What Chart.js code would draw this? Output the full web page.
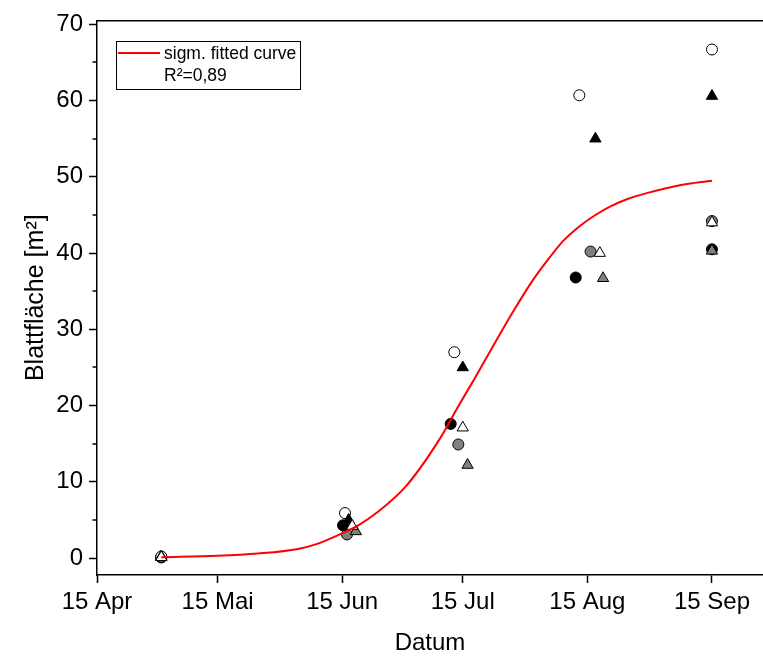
<!DOCTYPE html>
<html><head><meta charset="utf-8">
<script src="https://cdn.jsdelivr.net/npm/chart.js@4.4.0/dist/chart.umd.min.js"></script>
<style>html,body{margin:0;padding:0;background:#fff;overflow:hidden}#wrap{width:763px;height:664px;position:relative}</style>
</head><body><div id="wrap"><canvas id="c" width="763" height="664"></canvas></div>
<script>
// Days after 15 April
const tickDays = [0, 30, 61, 91, 122, 153];
const tickLabels = ['15 Apr', '15 Mai', '15 Jun', '15 Jul', '15 Aug', '15 Sep'];
const yTickValues = [0, 5, 10, 15, 20, 25, 30, 35, 40, 45, 50, 55, 60, 65, 70];

const openCircleDays = [16, 61.7, 88.9, 120.0, 153];
const openCircleValues = [0.2, 5.9, 27.0, 60.7, 66.7];
const blackCircleDays = [16, 61.2, 88.0, 119.1, 153];
const blackCircleValues = [0.1, 4.3, 17.6, 36.8, 40.5];
const grayCircleDays = [16, 62.2, 89.9, 122.8, 153];
const grayCircleValues = [0.1, 3.1, 14.9, 40.2, 44.2];
const openTriangleDays = [16, 63.5, 91.0, 125.1, 153];
const openTriangleValues = [0.1, 4.2, 17.1, 40.0, 44.0];
const blackTriangleDays = [16, 62.6, 91.0, 124.0, 153];
const blackTriangleValues = [0.2, 5.0, 25.0, 55.0, 60.6];
const grayTriangleDays = [16, 64.4, 92.2, 125.9, 153];
const grayTriangleValues = [0.1, 3.5, 12.2, 36.7, 40.3];

const curveDays = [16, 30, 40, 50, 55, 60, 65, 70, 77, 85, 90, 94, 98, 103.5, 108, 112, 116, 120, 124, 128, 132, 137, 145, 153];
const curveValues = [0.1, 0.3, 0.6, 1.2, 1.9, 3.0, 4.3, 6.1, 9.5, 15.4, 20.0, 23.6, 27.3, 32.3, 36.1, 39.0, 41.6, 43.5, 45.0, 46.2, 47.1, 47.9, 48.9, 49.5];

const legendLine1 = 'sigm. fitted curve';
const legendLine2 = 'R\u00b2=0,89';

const FONT = '"Liberation Sans", Arial, sans-serif';
const toXY = (xs, ys) => xs.map((x, i) => ({x: x, y: ys[i]}));

function pts(label, xs, ys, style, fill, order) {
  return {
    type: 'scatter', label: label, data: toXY(xs, ys), pointStyle: style,
    pointRadius: style === 'triangle' ? 6.5 : 5.5, pointHoverRadius: style === 'triangle' ? 6.5 : 5.5,
    pointBackgroundColor: fill, pointBorderColor: '#000', pointBorderWidth: 1, order: order
  };
}

const minorTicks = {
  id: 'minorTicks',
  afterDraw(chart) {
    const ctx = chart.ctx, y = chart.scales.y;
    ctx.save();
    ctx.strokeStyle = '#000'; ctx.lineWidth = 1.5;
    y.ticks.forEach(t => {
      if (t.value % 10 !== 0) {
        const py = Math.round(y.getPixelForValue(t.value));
        ctx.beginPath(); ctx.moveTo(y.right - 4.5, py); ctx.lineTo(y.right, py); ctx.stroke();
      }
    });
    ctx.restore();
  }
};

const legendBox = {
  id: 'legendBox',
  afterDraw(chart) {
    const ctx = chart.ctx;
    ctx.save();
    ctx.strokeStyle = '#000'; ctx.lineWidth = 1;
    ctx.strokeRect(116.5, 41.5, 184, 48);
    ctx.strokeStyle = '#ff0000'; ctx.lineWidth = 2;
    ctx.beginPath(); ctx.moveTo(118, 53); ctx.lineTo(160, 53); ctx.stroke();
    ctx.fillStyle = '#000'; ctx.font = '17.5px ' + FONT; ctx.textBaseline = 'middle';
    ctx.fillText(legendLine1, 164, 54);
    ctx.fillText(legendLine2, 164, 76);
    ctx.restore();
  }
};

new Chart(document.getElementById('c'), {
  type: 'scatter',
  data: {
    datasets: [
      {type: 'line', label: 'sigm. fitted curve', data: toXY(curveDays, curveValues), borderColor: '#ff0000', borderWidth: 2,
       pointRadius: 0, pointHoverRadius: 0, fill: false, cubicInterpolationMode: 'monotone', order: 0},
      pts('open triangle', openTriangleDays, openTriangleValues, 'triangle', '#ffffff', 1),
      pts('black triangle', blackTriangleDays, blackTriangleValues, 'triangle', '#000000', 1),
      pts('gray triangle', grayTriangleDays, grayTriangleValues, 'triangle', '#808080', 1),
      pts('open circle', openCircleDays, openCircleValues, 'circle', '#ffffff', 2),
      pts('black circle', blackCircleDays, blackCircleValues, 'circle', '#000000', 2),
      pts('gray circle', grayCircleDays, grayCircleValues, 'circle', '#808080', 2)
    ]
  },
  options: {
    responsive: false, animation: false, events: [],
    layout: {autoPadding: false, padding: {top: 19, right: 0, left: 0, bottom: 0}},
    plugins: {legend: {display: false}, tooltip: {enabled: false}},
    scales: {
      x: {
        type: 'linear', position: 'bottom', min: 0, max: 165.7,
        afterBuildTicks: s => { s.ticks = tickDays.map(v => ({value: v})); },
        afterFit: s => { s.height = 89; },
        ticks: {color: '#000', font: {family: FONT, size: 24}, padding: 5, maxRotation: 0, autoSkip: false,
                callback: (v) => { const i = tickDays.indexOf(v); return i >= 0 ? tickLabels[i] : ''; }},
        grid: {drawOnChartArea: false, drawTicks: true, tickLength: 8, color: '#000', tickWidth: 1.5},
        border: {display: true, color: '#000', width: 1.5},
        title: {display: true, text: 'Datum', color: '#000', font: {family: FONT, size: 24}, padding: {top: 0, bottom: 6}}
      },
      x2: {
        type: 'linear', position: 'top', min: 0, max: 1,
        afterFit: s => { s.height = 0; },
        ticks: {display: false}, grid: {display: false, drawTicks: false},
        border: {display: true, color: '#000', width: 1.5}
      },
      y: {
        type: 'linear', position: 'left', min: -2.22, max: 70.52,
        afterBuildTicks: s => { s.ticks = yTickValues.map(v => ({value: v})); },
        afterFit: s => { s.width = 97; },
        ticks: {color: '#000', font: {family: FONT, size: 24}, padding: 6, autoSkip: false,
                callback: v => (v % 10 === 0 ? String(v) : '')},
        grid: {drawOnChartArea: false, drawTicks: true, tickLength: 8, color: '#000', tickWidth: 1.5,
               tickColor: c => (c.tick && c.tick.value % 10 === 0 ? '#000' : 'rgba(0,0,0,0)')},
        border: {display: true, color: '#000', width: 1.5},
        title: {display: true, text: 'Blattfläche [m\u00b2]', color: '#000', font: {family: FONT, size: 25}, padding: {top: 21, bottom: 0}}
      }
    }
  },
  plugins: [minorTicks, legendBox]
});
</script></body></html>
